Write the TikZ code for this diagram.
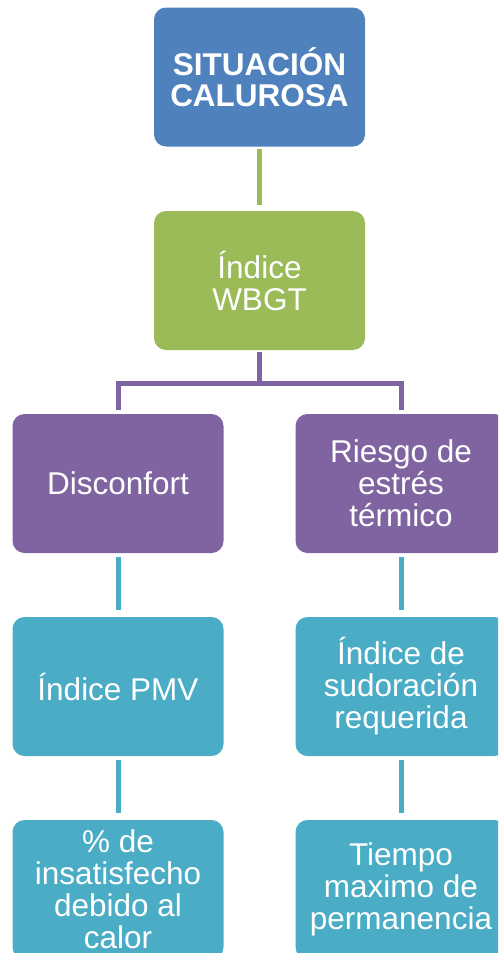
\documentclass[tikz,border=0pt]{standalone}
\usepackage{fontspec}
\setmainfont{Liberation Sans}
\definecolor{cblue}{HTML}{4F81BD}
\definecolor{cgreen}{HTML}{9BBB59}
\definecolor{cpurple}{HTML}{8064A2}
\definecolor{cteal}{HTML}{4BACC6}
\begin{document}
\begin{tikzpicture}[x=1pt,y=-1pt,
  box/.style={rectangle, rounded corners=12pt, minimum width=211pt, minimum height=139pt,
    inner sep=2pt, align=center, text=white, font=\fontsize{31.5}{32}\selectfont},
  topbox/.style={box, fill=cblue, font=\fontsize{31.5}{31}\selectfont\bfseries},
  greenbox/.style={box, fill=cgreen},
  purplebox/.style={box, fill=cpurple},
  tealbox/.style={box, fill=cteal},
  conn/.style={line width=5pt}]
\useasboundingbox (0,0) rectangle (498,953);
\clip (0,0) rectangle (498,953);
\node[topbox] (top) at (259.5,77) {SITUACIÓN\\CALUROSA};
\node[greenbox] (wbgt) at (259.5,280.5) {Índice\\WBGT};
\node[purplebox] (dis) at (118,483.5) {Disconfort};
\node[purplebox] (rie) at (401,483.5) {Riesgo de\\estrés\\térmico};
\node[tealbox] (pmv) at (118,686.5) {Índice PMV};
\node[tealbox] (sud) at (401,686.5) {Índice de\\sudoración\\requerida};
\node[tealbox] (ins) at (118,889.5) {\% de\\insatisfecho\\debido al\\calor};
\node[tealbox] (tie) at (401,889.5) {Tiempo\\maximo de\\permanencia};
\coordinate (j) at (259.5,383);
\draw[conn, cgreen, shorten <=2pt, shorten >=6pt] (top.south) -- (wbgt.north);
\draw[conn, cpurple, shorten <=2pt] (wbgt.south) -- (j);
\draw[conn, cpurple, shorten >=4pt] (j) -| (dis.north);
\draw[conn, cpurple, shorten >=4pt] (j) -| (rie.north);
\draw[conn, cteal, shorten <=4pt, shorten >=7pt] (dis.south) -- (pmv.north);
\draw[conn, cteal, shorten <=4pt, shorten >=7pt] (rie.south) -- (sud.north);
\draw[conn, cteal, shorten <=4pt, shorten >=7pt] (pmv.south) -- (ins.north);
\draw[conn, cteal, shorten <=4pt, shorten >=7pt] (sud.south) -- (tie.north);
\end{tikzpicture}
\end{document}
